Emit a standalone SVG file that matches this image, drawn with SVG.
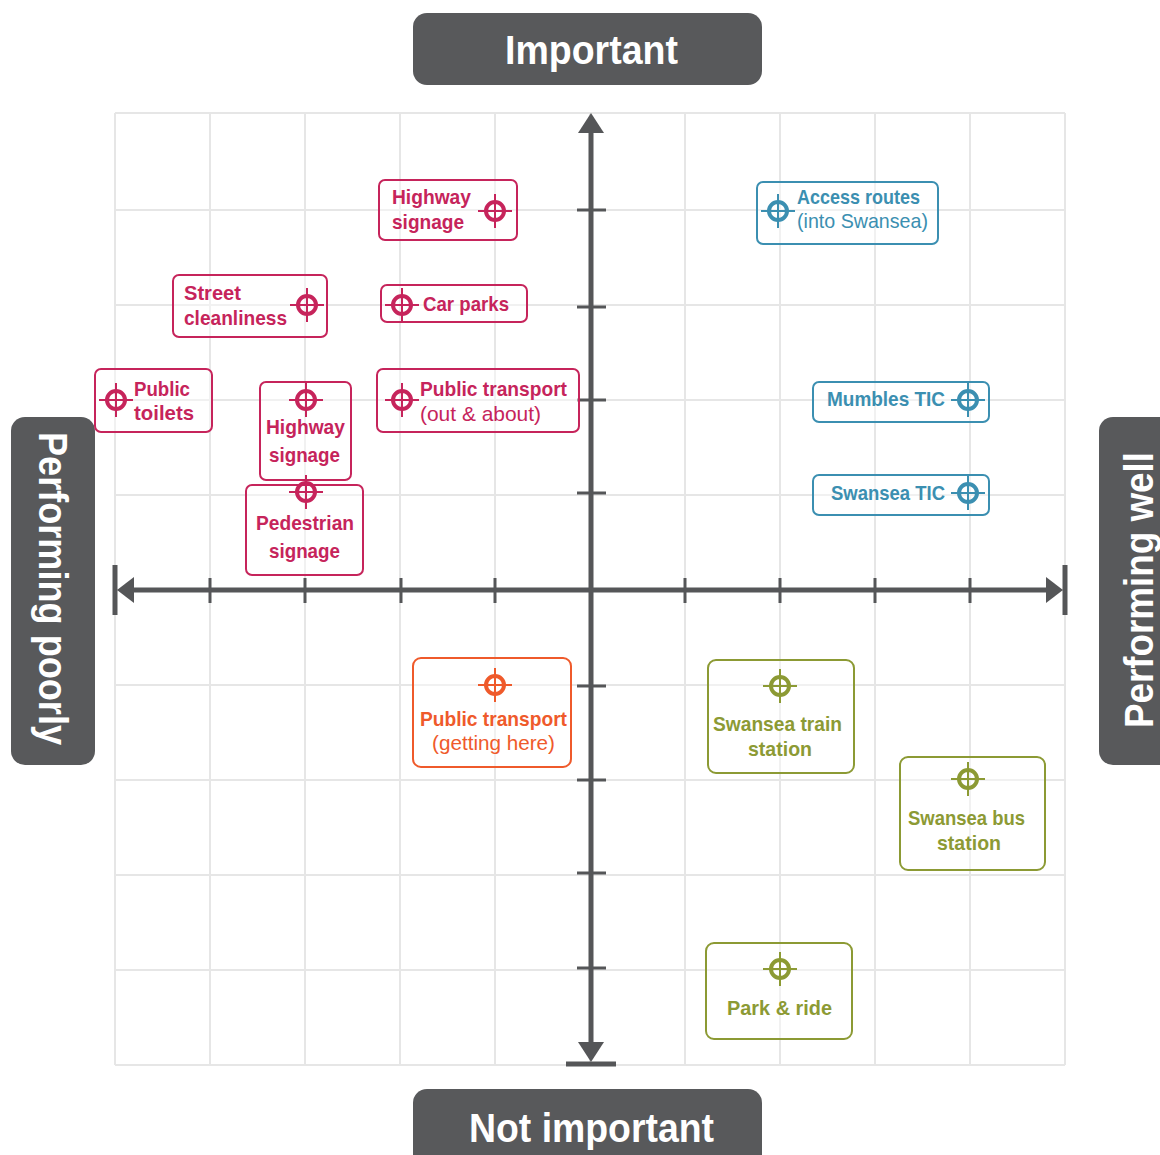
<svg xmlns="http://www.w3.org/2000/svg" xmlns:xlink="http://www.w3.org/1999/xlink" width="1160" height="1155" viewBox="0 0 1160 1155">
<style>
.grid line{stroke:#e6e6e6;stroke-width:2}
.ax{stroke:#555658;stroke-width:5;fill:none}
.tk{stroke:#555658;stroke-width:3}
.head{fill:#555658}
.lbl{fill:#58595b}
.lt{font-family:"Liberation Sans",Arial,sans-serif;font-weight:bold;fill:#ffffff;font-size:41px}
.t{font-family:"Liberation Sans",Arial,sans-serif;font-size:21px;font-weight:bold;stroke:none}
.n{font-weight:normal}
.box{fill:#ffffff;fill-opacity:0.45;stroke-width:2}
.red .box{stroke:#c6245b}.red{fill:#c6245b;color:#c6245b}
.blue .box{stroke:#3b8fb1}.blue{fill:#3b8fb1;color:#3b8fb1}
.green .box{stroke:#8c9a34}.green{fill:#8c9a34;color:#8c9a34}
.orange .box{stroke:#ef5a2b}.orange{fill:#ef5a2b;color:#ef5a2b}
</style>
<defs>
<g id="tg" fill="none" stroke="currentColor">
<circle r="9" stroke-width="4"/>
<path d="M-17,0H17M0,-17V17" stroke-width="2"/>
</g>
</defs>
<rect width="1160" height="1155" fill="#ffffff"/>
<g class="grid">
<line x1="115" y1="113" x2="115" y2="1065"/><line x1="210" y1="113" x2="210" y2="1065"/><line x1="305" y1="113" x2="305" y2="1065"/><line x1="400" y1="113" x2="400" y2="1065"/><line x1="495" y1="113" x2="495" y2="1065"/><line x1="590" y1="113" x2="590" y2="1065"/><line x1="685" y1="113" x2="685" y2="1065"/><line x1="780" y1="113" x2="780" y2="1065"/><line x1="875" y1="113" x2="875" y2="1065"/><line x1="970" y1="113" x2="970" y2="1065"/><line x1="1065" y1="113" x2="1065" y2="1065"/>
<line x1="115" y1="113" x2="1065" y2="113"/><line x1="115" y1="210" x2="1065" y2="210"/><line x1="115" y1="305" x2="1065" y2="305"/><line x1="115" y1="400" x2="1065" y2="400"/><line x1="115" y1="495" x2="1065" y2="495"/><line x1="115" y1="590" x2="1065" y2="590"/><line x1="115" y1="685" x2="1065" y2="685"/><line x1="115" y1="780" x2="1065" y2="780"/><line x1="115" y1="875" x2="1065" y2="875"/><line x1="115" y1="970" x2="1065" y2="970"/><line x1="115" y1="1065" x2="1065" y2="1065"/>
</g>
<g id="connectors">
<line class="ax" x1="128" y1="590" x2="1052" y2="590"/>
<line class="ax" x1="591" y1="130" x2="591" y2="1050"/>
<line class="ax" x1="115" y1="565" x2="115" y2="615"/>
<line class="ax" x1="1065" y1="565" x2="1065" y2="615"/>
<line class="ax" x1="566" y1="1064" x2="616" y2="1064"/>
<path class="head" d="M117,590 L134,577 L134,603 Z"/>
<path class="head" d="M1063,590 L1046,577 L1046,603 Z"/>
<path class="head" d="M591,113 L578,133 L604,133 Z"/>
<path class="head" d="M591,1062 L578,1042 L604,1042 Z"/>
<g class="tk">
<line x1="210" y1="578" x2="210" y2="603"/><line x1="305" y1="578" x2="305" y2="603"/><line x1="401" y1="578" x2="401" y2="603"/><line x1="495" y1="578" x2="495" y2="603"/><line x1="685" y1="578" x2="685" y2="603"/><line x1="780" y1="578" x2="780" y2="603"/><line x1="875" y1="578" x2="875" y2="603"/><line x1="970" y1="578" x2="970" y2="603"/>
<line x1="577" y1="210" x2="606" y2="210"/><line x1="577" y1="307" x2="606" y2="307"/><line x1="577" y1="400" x2="606" y2="400"/><line x1="577" y1="493" x2="606" y2="493"/><line x1="577" y1="686" x2="606" y2="686"/><line x1="577" y1="780" x2="606" y2="780"/><line x1="577" y1="873" x2="606" y2="873"/><line x1="577" y1="968" x2="606" y2="968"/>
</g>
</g>
<g id="label-important"><rect class="lbl" x="413" y="13" width="349" height="72" rx="14"/><text class="lt" x="505" y="64" textLength="173" lengthAdjust="spacingAndGlyphs">Important</text></g>
<g id="label-not-important"><rect class="lbl" x="413" y="1089" width="349" height="90" rx="14"/><text class="lt" x="469" y="1142" textLength="245" lengthAdjust="spacingAndGlyphs">Not important</text></g>
<g id="label-poorly"><rect class="lbl" x="11" y="417" width="84" height="348" rx="14"/><text class="lt" transform="translate(39,432) rotate(90)" textLength="313" lengthAdjust="spacingAndGlyphs">Performing poorly</text></g>
<g id="label-well"><rect class="lbl" x="1099" y="417" width="90" height="348" rx="14"/><text class="lt" transform="translate(1153,728) rotate(-90)" textLength="276" lengthAdjust="spacingAndGlyphs">Performing well</text></g>

<g id="n-highway-top" class="red"><rect class="box" x="379" y="180" width="138" height="60" rx="6"/><use xlink:href="#tg" x="495" y="211"/><text class="t" x="392" y="204" textLength="79" lengthAdjust="spacingAndGlyphs">Highway</text><text class="t" x="392" y="229" textLength="72" lengthAdjust="spacingAndGlyphs">signage</text></g>
<g id="n-street" class="red"><rect class="box" x="173" y="275" width="154" height="62" rx="6"/><use xlink:href="#tg" x="307" y="305"/><text class="t" x="184" y="300" textLength="57" lengthAdjust="spacingAndGlyphs">Street</text><text class="t" x="184" y="325" textLength="103" lengthAdjust="spacingAndGlyphs">cleanliness</text></g>
<g id="n-carparks" class="red"><rect class="box" x="381" y="285" width="146" height="37" rx="6"/><use xlink:href="#tg" x="402" y="305"/><text class="t" x="423" y="311" textLength="86" lengthAdjust="spacingAndGlyphs">Car parks</text></g>
<g id="n-toilets" class="red"><rect class="box" x="95" y="369" width="117" height="63" rx="6"/><use xlink:href="#tg" x="116" y="400"/><text class="t" x="134" y="396" textLength="56" lengthAdjust="spacingAndGlyphs">Public</text><text class="t" x="134" y="420" textLength="60" lengthAdjust="spacingAndGlyphs">toilets</text></g>
<g id="n-highway-mid" class="red"><rect class="box" x="260" y="382" width="91" height="98" rx="6"/><use xlink:href="#tg" x="306" y="400"/><text class="t" x="266" y="434" textLength="79" lengthAdjust="spacingAndGlyphs">Highway</text><text class="t" x="269" y="462" textLength="71" lengthAdjust="spacingAndGlyphs">signage</text></g>
<g id="n-pedestrian" class="red"><rect class="box" x="246" y="485" width="117" height="90" rx="6"/><use xlink:href="#tg" x="306" y="492"/><text class="t" x="256" y="530" textLength="98" lengthAdjust="spacingAndGlyphs">Pedestrian</text><text class="t" x="269" y="558" textLength="71" lengthAdjust="spacingAndGlyphs">signage</text></g>
<g id="n-pt-out" class="red"><rect class="box" x="377" y="369" width="202" height="63" rx="6"/><use xlink:href="#tg" x="402" y="400"/><text class="t" x="420" y="396" textLength="147" lengthAdjust="spacingAndGlyphs">Public transport</text><text class="t n" x="420" y="421" textLength="121" lengthAdjust="spacingAndGlyphs">(out &amp; about)</text></g>
<g id="n-pt-here" class="orange"><rect class="box" x="413" y="658" width="158" height="109" rx="8"/><use xlink:href="#tg" x="495" y="685"/><text class="t" x="420" y="726" textLength="147" lengthAdjust="spacingAndGlyphs">Public transport</text><text class="t n" x="432" y="750" textLength="123" lengthAdjust="spacingAndGlyphs">(getting here)</text></g>
<g id="n-access" class="blue"><rect class="box" x="757" y="182" width="181" height="62" rx="6"/><use xlink:href="#tg" x="778" y="211"/><text class="t" x="797" y="204" textLength="123" lengthAdjust="spacingAndGlyphs">Access routes</text><text class="t n" x="797" y="228" textLength="131" lengthAdjust="spacingAndGlyphs">(into Swansea)</text></g>
<g id="n-mumbles" class="blue"><rect class="box" x="813" y="382" width="176" height="40" rx="6"/><use xlink:href="#tg" x="968" y="400"/><text class="t" x="827" y="406" textLength="118" lengthAdjust="spacingAndGlyphs">Mumbles TIC</text></g>
<g id="n-swansea-tic" class="blue"><rect class="box" x="813" y="475" width="176" height="40" rx="6"/><use xlink:href="#tg" x="968" y="493"/><text class="t" x="831" y="500" textLength="114" lengthAdjust="spacingAndGlyphs">Swansea TIC</text></g>
<g id="n-train" class="green"><rect class="box" x="708" y="660" width="146" height="113" rx="8"/><use xlink:href="#tg" x="780" y="686"/><text class="t" x="713" y="731" textLength="129" lengthAdjust="spacingAndGlyphs">Swansea train</text><text class="t" x="748" y="756" textLength="64" lengthAdjust="spacingAndGlyphs">station</text></g>
<g id="n-bus" class="green"><rect class="box" x="900" y="757" width="145" height="113" rx="8"/><use xlink:href="#tg" x="968" y="779"/><text class="t" x="908" y="825" textLength="117" lengthAdjust="spacingAndGlyphs">Swansea bus</text><text class="t" x="937" y="850" textLength="64" lengthAdjust="spacingAndGlyphs">station</text></g>
<g id="n-park" class="green"><rect class="box" x="706" y="943" width="146" height="96" rx="8"/><use xlink:href="#tg" x="780" y="969"/><text class="t" x="727" y="1015" textLength="105" lengthAdjust="spacingAndGlyphs">Park &amp; ride</text></g>
</svg>
